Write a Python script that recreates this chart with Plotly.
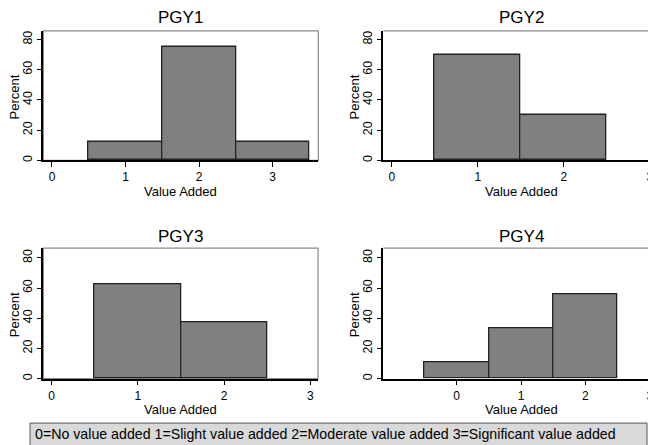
import plotly.graph_objects as go

W, H = 656, 445          # target picture size
OFF = 8                  # page body margin of the browser
FW, FH = W - OFF, H - OFF

# ---- data ----
panel_titles = ["PGY1", "PGY2", "PGY3", "PGY4"]
pgy1_values = [1, 2, 3]
pgy1_percent = [12.5, 75.0, 12.5]
pgy2_values = [1, 2]
pgy2_percent = [70.0, 30.0]
pgy3_values = [1, 2]
pgy3_percent = [62.5, 37.5]
pgy4_values = [0, 1, 2]
pgy4_percent = [11.1, 33.3, 55.6]
x_ticks = [0, 1, 2, 3]
y_ticks = [0, 20, 40, 60, 80]
caption = "0=No value added 1=Slight value added 2=Moderate value added 3=Significant value added"

series = [(pgy1_values, pgy1_percent), (pgy2_values, pgy2_percent),
          (pgy3_values, pgy3_percent), (pgy4_values, pgy4_percent)]


def px(x):
    return (x - OFF) / FW


def py(y):
    return 1 - (y - OFF) / FH


# layout geometry (pixels in the target picture)
panels = [
    dict(x0=43.3, x1=318.3, top=31, bot=161, xr=[-0.118, 3.62], yr=[0, 85.7], title=(180, 18), full=True),
    dict(x0=383.3, x1=656, top=31, bot=161, xr=[-0.098, 3.073], yr=[0, 85.7], title=(521.7, 18), full=False),
    dict(x0=43.3, x1=318, top=249.3, bot=380.3, xr=[-0.097, 3.09], yr=[0, 86.4], title=(180, 238), full=True),
    dict(x0=383.3, x1=656, top=249.3, bot=380.3, xr=[-1.14, 3.096], yr=[0, 86.4], title=(521.7, 238), full=False),
]

fig = go.Figure()
font_family = "Liberation Sans, Arial, sans-serif"
annotations = []
shapes = []

for i, (p, (xv, yv)) in enumerate(zip(panels, series)):
    n = "" if i == 0 else str(i + 1)
    fig.add_trace(go.Bar(
        x=xv, y=yv, width=1,
        marker=dict(color="#808080", line=dict(color="#222222", width=1.3)),
        xaxis="x" + n, yaxis="y" + n, showlegend=False, hoverinfo="skip",
    ))
    fig.update_layout(**{
        "xaxis" + n: dict(
            domain=[px(p["x0"]), min(1, px(p["x1"]))], range=p["xr"], anchor="y" + n,
            tickvals=x_ticks, ticks="outside", ticklen=5, tickcolor="black",
            showline=True, linecolor="black", linewidth=1.5, showgrid=False,
            zeroline=False, tickfont=dict(size=12, color="black", family=font_family),
        ),
        "yaxis" + n: dict(
            domain=[py(p["bot"]), py(p["top"])], range=p["yr"], anchor="x" + n,
            tickvals=y_ticks, ticks="outside", ticklen=5, tickcolor="black",
            showline=True, linecolor="black", linewidth=1.5, showgrid=False,
            zeroline=False, tickangle=-90,
            tickfont=dict(size=12.5, color="black", family=font_family),
        ),
    })
    # plot region border (gray)
    if p["full"]:
        shapes.append(dict(type="rect", xref="x%s domain" % n, yref="y%s domain" % n,
                           x0=0, x1=1, y0=0, y1=1, line=dict(color="#8a8a8a", width=1.2),
                           layer="below"))
    else:
        shapes.append(dict(type="line", xref="x%s domain" % n, yref="y%s domain" % n,
                           x0=0, x1=1, y0=1, y1=1, line=dict(color="#8a8a8a", width=1.2),
                           layer="below"))
    tx, ty = p["title"]
    annotations.append(dict(text=panel_titles[i], x=px(tx), y=py(ty), xref="paper", yref="paper",
                            showarrow=False, xanchor="center", yanchor="middle",
                            font=dict(size=17, color="black", family=font_family)))
    annotations.append(dict(text="Value Added", x=px(tx), y=py(p["bot"] + 31.5), xref="paper", yref="paper",
                            showarrow=False, xanchor="center", yanchor="middle",
                            font=dict(size=13, color="black", family=font_family)))
    annotations.append(dict(text="Percent", x=px(p["x0"] - 28.5), y=py((p["top"] + p["bot"]) / 2 + 1),
                            xref="paper", yref="paper", textangle=-90,
                            showarrow=False, xanchor="center", yanchor="middle",
                            font=dict(size=13, color="black", family=font_family)))

# caption box
shapes.append(dict(type="rect", xref="paper", yref="paper",
                   x0=px(30), x1=px(647), y0=py(448), y1=py(425),
                   fillcolor="#d9d9d9", line=dict(color="#555555", width=1)))
annotations.append(dict(text=caption, x=px(33), y=py(436), xref="paper", yref="paper",
                        showarrow=False, xanchor="left", yanchor="middle",
                        font=dict(size=14.2, color="black", family=font_family)))

fig.update_layout(
    width=FW, height=FH, margin=dict(l=0, r=0, t=0, b=0),
    paper_bgcolor="white", plot_bgcolor="white",
    shapes=shapes, annotations=annotations, bargap=0,
)

fig.write_html("out.html")
